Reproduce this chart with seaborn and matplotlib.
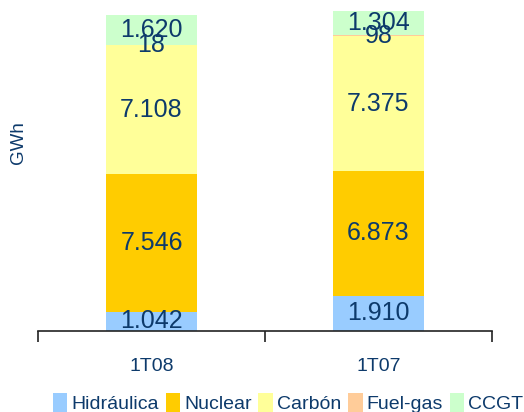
import matplotlib
matplotlib.use("Agg")
import matplotlib.pyplot as plt
from matplotlib.patches import Patch
import seaborn as sns
import pandas as pd

# Generation by technology (GWh) per quarter
periods = ["1T08", "1T07"]
technologies = ["Hidráulica", "Nuclear", "Carbón", "Fuel-gas", "CCGT"]
hidraulica = [1042, 1910]
nuclear = [7546, 6873]
carbon = [7108, 7375]
fuel_gas = [18, 98]
ccgt = [1620, 1304]

colors = ["#99CCFF", "#FFCC00", "#FFFF99", "#FFCC99", "#CCFFCC"]
text_color = "#0D3A6B"

series = [hidraulica, nuclear, carbon, fuel_gas, ccgt]
df = pd.DataFrame({"periodo": periods})
for name, vals in zip(technologies, series):
    df[name] = vals

sns.set_style("white")
plt.rcParams["font.family"] = ["Liberation Sans", "DejaVu Sans"]

fig = plt.figure(figsize=(5.24, 4.12), dpi=100)
ax = fig.add_axes([38 / 524, 81.5 / 412, 454 / 524, 327.6 / 412])

bottom = pd.Series([0.0] * len(periods))
for name, color in zip(technologies, colors):
    sns.barplot(data=df, x="periodo", y=name, color=color, width=0.405,
                bottom=bottom.values, ax=ax, linewidth=0, saturation=1)
    for i, v in enumerate(df[name]):
        ax.text(i, bottom[i] + v / 2, f"{v:,}".replace(",", "."),
                ha="center", va="center", fontsize=18, color=text_color)
    bottom = bottom + df[name]

ax.set_xlim(-0.5, 1.5)
ax.set_ylim(0, 18000)
ax.set_yticks([])
ax.set_xlabel("")
ax.set_ylabel("")
for side in ["left", "right", "top"]:
    ax.spines[side].set_visible(False)
ax.spines["bottom"].set_color("#222222")
ax.spines["bottom"].set_linewidth(1.2)

# category labels between boundary ticks
ax.set_xticks([0, 1])
ax.set_xticklabels(periods, fontsize=14, color=text_color)
ax.tick_params(axis="x", which="major", length=0, pad=20)
ax.set_xticks([-0.5, 0.5, 1.5], minor=True)
ax.tick_params(axis="x", which="minor", bottom=True, length=8, width=1.2,
               color="#222222", direction="out")

fig.text(18 / 524, 1 - 143 / 412, "GWh", rotation=90, ha="center",
         va="center", fontsize=13.5, color=text_color)

handles = [Patch(facecolor=c, edgecolor="none") for c in colors]
leg = fig.legend(handles, technologies, loc="center", ncol=5,
                 bbox_to_anchor=(288 / 524, 1 - 403 / 412), frameon=False,
                 fontsize=14, handlelength=0.75, handleheight=1.1,
                 handletextpad=0.2, columnspacing=0.35, borderaxespad=0,
                 borderpad=0)
for t in leg.get_texts():
    t.set_color(text_color)

fig.savefig("out.png", dpi=100)
